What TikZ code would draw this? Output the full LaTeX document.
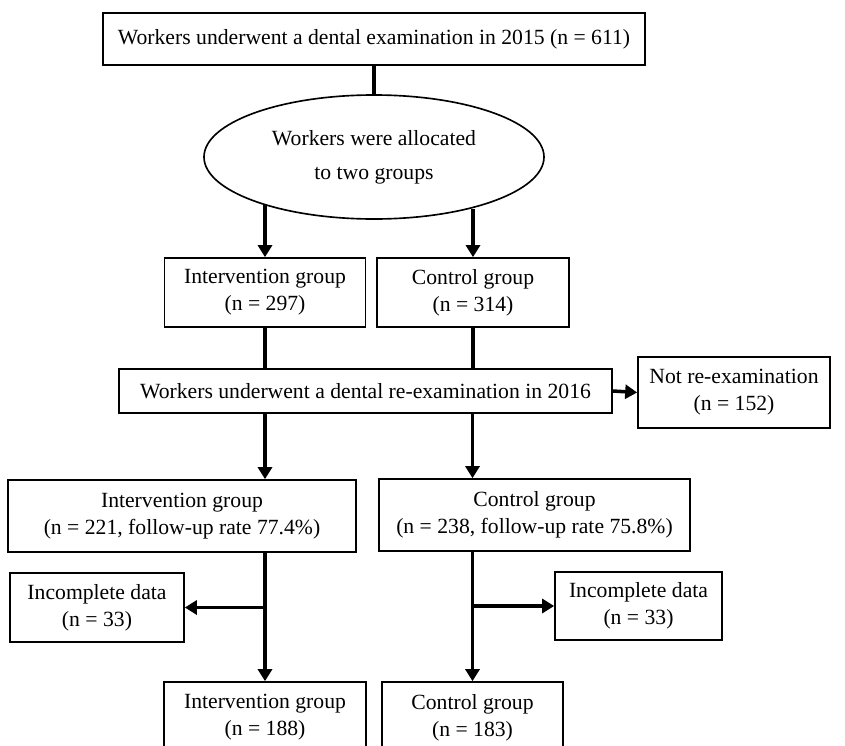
\documentclass[tikz,border=0pt]{standalone}
\usepackage{fontspec}
\setmainfont{Liberation Serif}
\usetikzlibrary{arrows.meta,shapes.geometric}

\begin{document}
\begin{tikzpicture}[x=0.3mm,y=-0.3mm,
    font=\fontsize{18.5}{23}\selectfont,
    box/.style={draw,line width=1.4pt,align=center,inner sep=0pt},
    link/.style={line width=3pt},
    arr/.style={link,-{Triangle[length=3.6mm,width=4.2mm]}}]
    \useasboundingbox (0,0) rectangle (845,746);
    \clip (0,0) rectangle (845,746);
    \node[box,minimum width=162.6mm,minimum height=15.6mm] (exam15) at (374,39)
        {Workers underwent a dental examination in 2015 (n = 611)};
    \node[box,ellipse,minimum width=102mm,minimum height=37.2mm] (alloc) at (374,157)
        {Workers were allocated\\[6pt]to two groups};
    \node[box,minimum width=60.3mm,minimum height=20.7mm] (int1) at (265,292.5)
        {Intervention group\\(n = 297)};
    \node[box,minimum width=57.6mm,minimum height=20.7mm] (con1) at (473,292.5)
        {Control group\\(n = 314)};
    \node[box,minimum width=147.9mm,minimum height=13.2mm] (exam16) at (365.5,391)
        {Workers underwent a dental re-examination in 2016};
    \node[box,minimum width=57.6mm,minimum height=21.3mm] (noexam) at (734,392.5)
        {Not re-examination\\(n = 152)};
    \node[box,minimum width=104.4mm,minimum height=21.6mm] (int2) at (182,516)
        {Intervention group\\(n = 221, follow-up rate 77.4\%)};
    \node[box,minimum width=93.3mm,minimum height=21.6mm] (con2) at (534.5,515)
        {Control group\\(n = 238, follow-up rate 75.8\%)};
    \node[box,minimum width=52.2mm,minimum height=20.7mm] (lossa) at (97,607.5)
        {Incomplete data\\(n = 33)};
    \node[box,minimum width=50.1mm,minimum height=20.4mm] (lossb) at (638.5,606)
        {Incomplete data\\(n = 33)};
    \node[box,minimum width=60.6mm,minimum height=21.3mm] (int3) at (265,717.5)
        {Intervention group\\(n = 188)};
    \node[box,minimum width=54.3mm,minimum height=21.3mm] (con3) at (472.5,717.5)
        {Control group\\(n = 183)};
    \draw[link] (exam15.south) -- (alloc.north);
    \draw[arr] (alloc.203 -| int1.north) -- (int1.north);
    \draw[arr] (alloc.332 -| con1.north) -- (con1.north);
    \foreach \g in {int,con}{
        \draw[link] (\g1.south) -- (\g1.south |- exam16.north);
        \draw[arr] (exam16.south -| \g3.north) -- (\g2.north -| \g3.north);
        \draw[arr] (\g2.south -| \g3.north) -- (\g3.north);
    }
    \draw[arr] (exam16.east) -- (noexam.west);
    \draw[arr] (lossa.east -| int3.north) -- (lossa.east);
    \draw[arr] (lossb.west -| con3.north) -- (lossb.west);
\end{tikzpicture}
\end{document}
